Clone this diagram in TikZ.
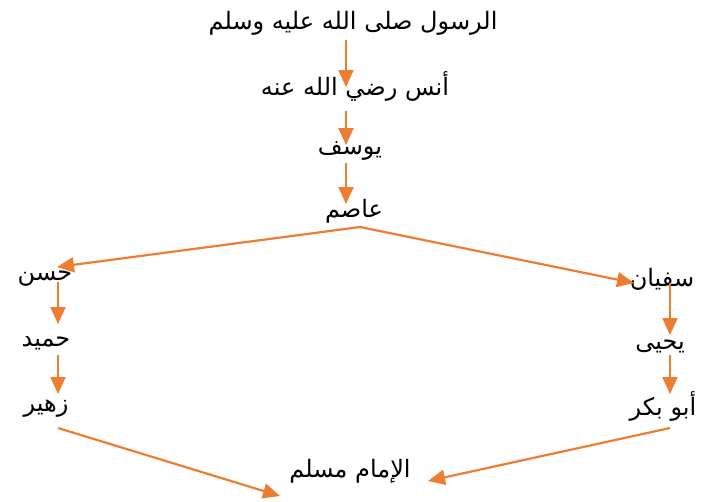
\documentclass[tikz,border=0pt]{standalone}
\usepackage{fontspec}
\newfontfamily\arabicfont[Script=Arabic]{DejaVu Sans}
\TeXXeTstate=1
\definecolor{arrorange}{HTML}{ED7D31}
\tikzset{
  lbl/.style={inner sep=0pt, font=\arabicfont\fontsize{24}{28}\selectfont},
  arr/.style={draw=arrorange, line width=2.2pt, -{Triangle[length=17pt,width=15pt]}, fill=arrorange},
}
\usetikzlibrary{arrows.meta}
\begin{document}
\begin{tikzpicture}[x=1pt,y=-1pt]
\useasboundingbox (0,0) rectangle (704,501);
% nodes
\node[lbl] (rasul) at (353,23) {\beginR الرسول صلى الله عليه وسلم\endR};
\node[lbl] (anas) at (355,86) {\beginR أنس رضي الله عنه\endR};
\node[lbl] (yusuf) at (350,151) {\beginR يوسف\endR};
\node[lbl] (asim) at (354,211) {\beginR عاصم\endR};
\node[lbl] (hasan) at (45,279) {\beginR حسن\endR};
\node[lbl] (humaid) at (46,343) {\beginR حميد\endR};
\node[lbl] (zuhair) at (46,409) {\beginR زهير\endR};
\node[lbl] (sufyan) at (662,279) {\beginR سفيان\endR};
\node[lbl] (yahya) at (660,346) {\beginR يحيى\endR};
\node[lbl] (abubakr) at (663,406) {\beginR أبو بكر\endR};
\node[lbl] (muslim) at (350,471) {\beginR الإمام مسلم\endR};
% connector end points
\coordinate (c1s) at (346,40);  \coordinate (c1e) at (346,87);
\coordinate (c2s) at (346,111); \coordinate (c2e) at (346,145);
\coordinate (c3s) at (346,163); \coordinate (c3e) at (346,204);
\coordinate (apex) at (360,227);
\coordinate (lhe) at (57,267);  \coordinate (rhe) at (634,283);
\coordinate (l1s) at (58,282);  \coordinate (l1e) at (58,324);
\coordinate (l2s) at (58,355);  \coordinate (l2e) at (58,394);
\coordinate (r1s) at (670,283); \coordinate (r1e) at (670,335);
\coordinate (r2s) at (670,355); \coordinate (r2e) at (670,394);
\coordinate (bls) at (58,428);  \coordinate (ble) at (280,496);
\coordinate (brs) at (670,428); \coordinate (bre) at (428,481);
% connectors
\draw[arr] (c1s) -- (c1e);
\draw[arr] (c2s) -- (c2e);
\draw[arr] (c3s) -- (c3e);
\draw[arr] (apex) -- (lhe);
\draw[arr] (apex) -- (rhe);
\draw[arr] (l1s) -- (l1e);
\draw[arr] (l2s) -- (l2e);
\draw[arr] (r1s) -- (r1e);
\draw[arr] (r2s) -- (r2e);
\draw[arr] (bls) -- (ble);
\draw[arr] (brs) -- (bre);
\end{tikzpicture}
\end{document}
